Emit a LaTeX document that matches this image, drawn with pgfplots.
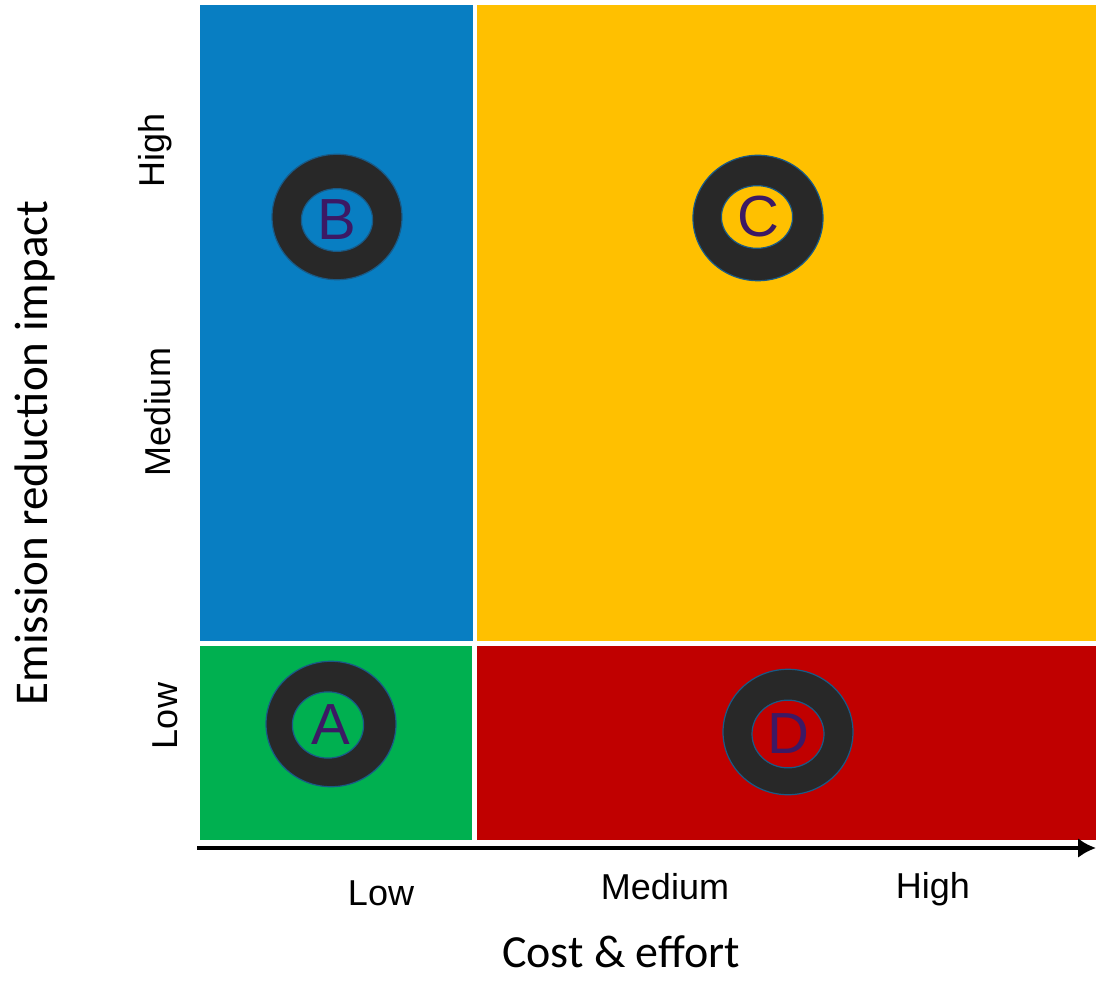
\documentclass[border=0pt]{standalone}
\usepackage{pgfplots}
\pgfplotsset{compat=1.18}
\usepackage{fontspec}
\setmainfont{Liberation Sans}
\newfontfamily\titlefont{Carlito}
\usetikzlibrary{arrows.meta}

\definecolor{qblue}{RGB}{8,126,194}
\definecolor{qyellow}{RGB}{255,192,0}
\definecolor{qgreen}{RGB}{0,176,80}
\definecolor{qred}{RGB}{192,0,0}
\definecolor{ring}{RGB}{40,40,40}
\definecolor{ringedge}{RGB}{25,90,135}
\definecolor{letter}{RGB}{60,25,100}

\begin{document}
\begin{tikzpicture}
\begin{axis}[
  scale only axis, width=548pt, height=490pt,
  xmin=0, xmax=1096, ymin=0, ymax=980,
  hide axis, clip=false,
]
% quadrants (cost on x, impact on y)
\addplot[fill=qblue, draw=none] coordinates {(200,339) (473,339) (473,975) (200,975)} -- cycle;
\addplot[fill=qyellow, draw=none] coordinates {(477,339) (1096,339) (1096,975) (477,975)} -- cycle;
\addplot[fill=qgreen, draw=none] coordinates {(200,140) (472,140) (472,334) (200,334)} -- cycle;
\addplot[fill=qred, draw=none] coordinates {(477,140) (1096,140) (1096,334) (477,334)} -- cycle;

% rings
\addplot[only marks, mark=*, mark size=32.5pt,
  mark options={fill=ring, draw=ringedge, line width=0.6pt, yscale=0.965}]
  coordinates {(337,763) (758,762) (331,256) (788,248)};
% ring holes, filled with the quadrant colour
\addplot[only marks, mark=*, mark size=17.8pt,
  mark options={fill=qblue, draw=ringedge, line width=0.6pt, yscale=0.88}]
  coordinates {(337,760)};
\addplot[only marks, mark=*, mark size=17.8pt,
  mark options={fill=qyellow, draw=ringedge, line width=0.6pt, yscale=0.88}]
  coordinates {(757,763)};
\addplot[only marks, mark=*, mark size=17.8pt,
  mark options={fill=qgreen, draw=ringedge, line width=0.6pt, yscale=0.93}]
  coordinates {(328,255)};
\addplot[only marks, mark=*, mark size=18pt,
  mark options={fill=qred, draw=ringedge, line width=0.6pt, yscale=0.94}]
  coordinates {(788,246)};

% option letters
\addplot[only marks, mark=none, point meta=explicit symbolic,
  nodes near coords, nodes near coords align={center},
  every node near coord/.append style={font=\fontsize{29}{29}\selectfont, text=letter, anchor=center}]
  table[meta=lab] {
x y lab
337 760 B
758 763 C
331 255 A
788 246 D
};

% horizontal arrow
\draw[line width=2pt, -{Latex[length=9pt, width=10pt]}] (axis cs:197,132) -- (axis cs:1096,132);

% category labels
\begin{scope}[font=\fontsize{18}{18}\selectfont]
\node at (axis cs:381,87) {Low};
\node at (axis cs:665,93) {Medium};
\node at (axis cs:933,91) {High};
\node[rotate=90] at (axis cs:155,830) {High};
\node[rotate=90] at (axis cs:158,568) {Medium};
\node[rotate=90] at (axis cs:165,264) {Low};
\end{scope}

% axis titles
\node[font=\titlefont\fontsize{23}{23}\selectfont] at (axis cs:621,28) {Cost \& effort};
\node[font=\titlefont\fontsize{23.5}{23.5}\selectfont, rotate=90] at (axis cs:35,527) {Emission reduction impact};
\end{axis}
\pgfresetboundingbox
\useasboundingbox (current axis.south west) rectangle (current axis.north east);
\end{tikzpicture}
\end{document}
